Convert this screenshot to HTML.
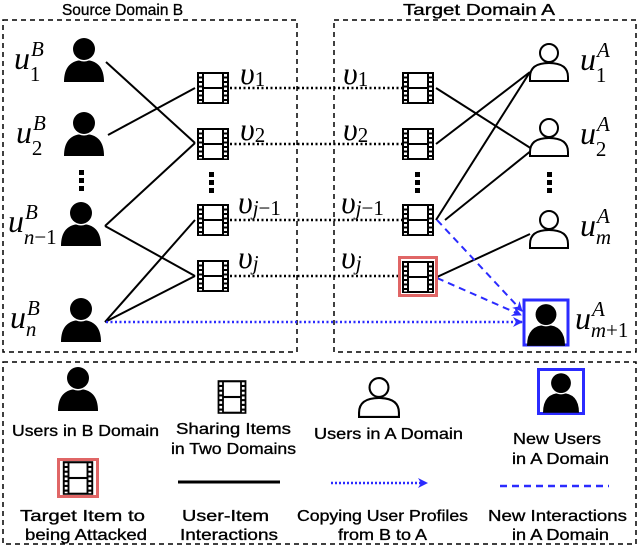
<!DOCTYPE html>
<html><head><meta charset="utf-8"><style>
html,body{margin:0;padding:0;background:#fff}
svg{display:block}
.t{font-family:"Liberation Sans","DejaVu Sans",sans-serif;font-size:16px;fill:#000;stroke:#000;stroke-width:0.35}
.m{font-family:"Liberation Serif",serif;font-style:italic;font-size:32px;fill:#000}
.s{font-family:"Liberation Serif",serif;font-style:italic;font-size:21px}
.n{font-style:normal}
</style></head><body>
<svg width="640" height="547" viewBox="0 0 640 547" xmlns="http://www.w3.org/2000/svg">
<defs>
<g id="uf"><path d="M-20 22 Q-20 0 0 0 Q20 0 20 22 Z" fill="#000"/><circle cx="0" cy="-11" r="12.5" fill="#fff"/><circle cx="0" cy="-11" r="11" fill="#000"/></g>
<g id="uo" fill="#fff" stroke="#000" stroke-width="2"><path d="M-19 18 L-19 14 Q-19 0 0 0 Q19 0 19 14 L19 18 Z"/><circle cx="0" cy="-10" r="9"/></g>
<g id="fm"><rect x="-16" y="-16" width="32" height="32" fill="#000"/><rect x="-9" y="-14" width="18" height="13" fill="#fff"/><rect x="-9" y="1" width="18" height="13" fill="#fff"/>
<g fill="#fff"><rect x="-14" y="-14" width="3" height="2.5"/><rect x="-14" y="-9.5" width="3" height="2.5"/><rect x="-14" y="-5" width="3" height="2.5"/><rect x="-14" y="-0.5" width="3" height="2.5"/><rect x="-14" y="4" width="3" height="2.5"/><rect x="-14" y="8.5" width="3" height="2.5"/><rect x="-14" y="13" width="3" height="1.5"/>
<rect x="11" y="-14" width="3" height="2.5"/><rect x="11" y="-9.5" width="3" height="2.5"/><rect x="11" y="-5" width="3" height="2.5"/><rect x="11" y="-0.5" width="3" height="2.5"/><rect x="11" y="4" width="3" height="2.5"/><rect x="11" y="8.5" width="3" height="2.5"/><rect x="11" y="13" width="3" height="1.5"/></g></g>
<marker id="ar" viewBox="0 0 10 10" refX="9" refY="5" markerWidth="10" markerHeight="10" markerUnits="userSpaceOnUse" orient="auto"><path d="M0 0 L10 5 L0 10 L3 5 Z" fill="#2b2bff"/></marker>
</defs>
<g fill="none" stroke="#000" stroke-width="1.5" stroke-dasharray="5,4">
<rect x="3" y="20" width="294" height="332"/>
<rect x="334" y="20" width="302" height="332"/>
<rect x="3" y="362" width="633" height="182"/>
</g>
<text class="t" x="62" y="15" textLength="121" lengthAdjust="spacingAndGlyphs">Source Domain B</text>
<text class="t" x="403" y="15" textLength="152" lengthAdjust="spacingAndGlyphs">Target Domain A</text>
<g stroke="#000" stroke-width="2">
<line x1="106" y1="62" x2="195" y2="143"/><line x1="108" y1="135" x2="195" y2="88"/>
<line x1="105" y1="226" x2="195" y2="143"/><line x1="105" y1="226" x2="195" y2="276"/>
<line x1="105" y1="322" x2="195" y2="220"/><line x1="105" y1="322" x2="195" y2="276"/>
<line x1="436" y1="88" x2="532" y2="149"/><line x1="436" y1="144" x2="530" y2="72"/>
<line x1="436" y1="220" x2="530" y2="72"/><line x1="445" y1="220" x2="532" y2="150"/>
<line x1="437" y1="277" x2="530" y2="234"/>
</g>
<g stroke="#000" stroke-width="2.5" stroke-dasharray="2,2.5">
<line x1="230" y1="88" x2="402" y2="88"/><line x1="230" y1="144" x2="402" y2="144"/>
<line x1="230" y1="220" x2="402" y2="220"/><line x1="230" y1="276" x2="398" y2="276"/>
</g>
<line x1="106" y1="322" x2="522" y2="322" stroke="#2b2bff" stroke-width="2.5" stroke-dasharray="2,2.5" marker-end="url(#ar)"/>
<g stroke="#2b2bff" stroke-width="2" stroke-dasharray="7,5">
<line x1="437" y1="220" x2="522" y2="311" marker-end="url(#ar)"/>
<line x1="437" y1="278" x2="521" y2="315" marker-end="url(#ar)"/>
</g>
<use href="#uf" x="84" y="60"/><use href="#uf" x="84" y="134"/><use href="#uf" x="81" y="224"/><use href="#uf" x="81" y="320"/>
<g fill="#000"><rect x="79" y="170" width="5" height="5"/><rect x="79" y="178" width="5" height="5"/><rect x="79" y="186" width="5" height="5"/>
<rect x="209" y="172" width="5" height="5"/><rect x="209" y="180" width="5" height="5"/><rect x="209" y="188" width="5" height="5"/>
<rect x="415" y="172" width="5" height="5"/><rect x="415" y="180" width="5" height="5"/><rect x="415" y="188" width="5" height="5"/>
<rect x="547" y="172" width="5" height="5"/><rect x="547" y="180" width="5" height="5"/><rect x="547" y="188" width="5" height="5"/></g>
<use href="#fm" x="213" y="88"/><use href="#fm" x="213" y="144"/><use href="#fm" x="213" y="220"/><use href="#fm" x="213" y="276"/>
<use href="#fm" x="418" y="88"/><use href="#fm" x="418" y="144"/><use href="#fm" x="418" y="220"/>
<rect x="399.5" y="257.5" width="37" height="38" fill="#fff" stroke="#e06666" stroke-width="3"/>
<use href="#fm" x="418" y="277"/>
<use href="#uo" x="549" y="63"/><use href="#uo" x="549" y="138"/><use href="#uo" x="549" y="230"/>
<rect x="524" y="300" width="44" height="45" fill="#fff" stroke="#2b2bff" stroke-width="3"/>
<use href="#uf" transform="translate(546 325) scale(0.95)"/>
<text class="m" x="14" y="69">u<tspan class="s" dy="-13" dx="1">B</tspan><tspan class="s n" dx="-14" dy="25">1</tspan></text>
<text class="m" x="16" y="143">u<tspan class="s" dy="-13" dx="1">B</tspan><tspan class="s n" dx="-14" dy="25">2</tspan></text>
<text class="m" x="8" y="232">u<tspan class="s" dy="-13" dx="1">B</tspan><tspan class="s" dx="-14" dy="25">n<tspan class="n">−1</tspan></tspan></text>
<text class="m" x="10" y="328">u<tspan class="s" dy="-13" dx="1">B</tspan><tspan class="s" dx="-14" dy="21">n</tspan></text>
<text class="m" x="240" y="84">υ<tspan class="s n" dy="2">1</tspan></text>
<text class="m" x="240" y="140">υ<tspan class="s n" dy="2">2</tspan></text>
<text class="m" x="238" y="213">υ<tspan class="s" dy="2">j<tspan class="n">−1</tspan></tspan></text>
<text class="m" x="238" y="268">υ<tspan class="s" dy="2">j</tspan></text>
<text class="m" x="343" y="84">υ<tspan class="s n" dy="2">1</tspan></text>
<text class="m" x="343" y="140">υ<tspan class="s n" dy="2">2</tspan></text>
<text class="m" x="341" y="213">υ<tspan class="s" dy="2">j<tspan class="n">−1</tspan></tspan></text>
<text class="m" x="341" y="268">υ<tspan class="s" dy="2">j</tspan></text>
<text class="m" x="580" y="70">u<tspan class="s" dy="-13" dx="1">A</tspan><tspan class="s n" dx="-14" dy="25">1</tspan></text>
<text class="m" x="580" y="144">u<tspan class="s" dy="-13" dx="1">A</tspan><tspan class="s n" dx="-14" dy="25">2</tspan></text>
<text class="m" x="580" y="236">u<tspan class="s" dy="-13" dx="1">A</tspan><tspan class="s" dx="-14" dy="21">m</tspan></text>
<text class="m" x="575" y="329">u<tspan class="s" dy="-13" dx="1">A</tspan><tspan class="s" dx="-14" dy="21">m<tspan class="n">+1</tspan></tspan></text>
<!-- legend -->
<use href="#uf" x="78" y="389"/>
<use href="#fm" transform="translate(232 397) scale(0.9 1.05)"/>
<use href="#uo" transform="translate(379 398) scale(1.05)"/>
<rect x="538.5" y="369.5" width="45" height="44" fill="#fff" stroke="#2b2bff" stroke-width="3"/>
<use href="#uf" transform="translate(561 393) scale(0.9)"/>
<rect x="58.5" y="459.5" width="39" height="37" fill="#fff" stroke="#e06666" stroke-width="3"/>
<use href="#fm" transform="translate(78 478) scale(0.95 1.05)"/>
<line x1="178" y1="482" x2="280" y2="482" stroke="#000" stroke-width="3"/>
<line x1="331" y1="483" x2="427" y2="483" stroke="#2b2bff" stroke-width="2.5" stroke-dasharray="2,2" marker-end="url(#ar)"/>
<line x1="500" y1="486" x2="609" y2="486" stroke="#2b2bff" stroke-width="2.5" stroke-dasharray="7,5"/>
<text class="t" x="12" y="436" textLength="147" lengthAdjust="spacingAndGlyphs">Users in B Domain</text>
<text class="t" x="176" y="434" textLength="115" lengthAdjust="spacingAndGlyphs">Sharing Items</text>
<text class="t" x="171" y="454" textLength="125" lengthAdjust="spacingAndGlyphs">in Two Domains</text>
<text class="t" x="314" y="439" textLength="149" lengthAdjust="spacingAndGlyphs">Users in A Domain</text>
<text class="t" x="513" y="444" textLength="88" lengthAdjust="spacingAndGlyphs">New Users</text>
<text class="t" x="512" y="464" textLength="97" lengthAdjust="spacingAndGlyphs">in A Domain</text>
<text class="t" x="20" y="521" textLength="125" lengthAdjust="spacingAndGlyphs">Target Item to</text>
<text class="t" x="25" y="540" textLength="122" lengthAdjust="spacingAndGlyphs">being Attacked</text>
<text class="t" x="182" y="521" textLength="87" lengthAdjust="spacingAndGlyphs">User-Item</text>
<text class="t" x="180" y="540" textLength="98" lengthAdjust="spacingAndGlyphs">Interactions</text>
<text class="t" x="297" y="521" textLength="171" lengthAdjust="spacingAndGlyphs">Copying User Profiles</text>
<text class="t" x="338" y="540" textLength="89" lengthAdjust="spacingAndGlyphs">from B to A</text>
<text class="t" x="488" y="521" textLength="139" lengthAdjust="spacingAndGlyphs">New Interactions</text>
<text class="t" x="512" y="540" textLength="97" lengthAdjust="spacingAndGlyphs">in A Domain</text>
</svg>
</body></html>
